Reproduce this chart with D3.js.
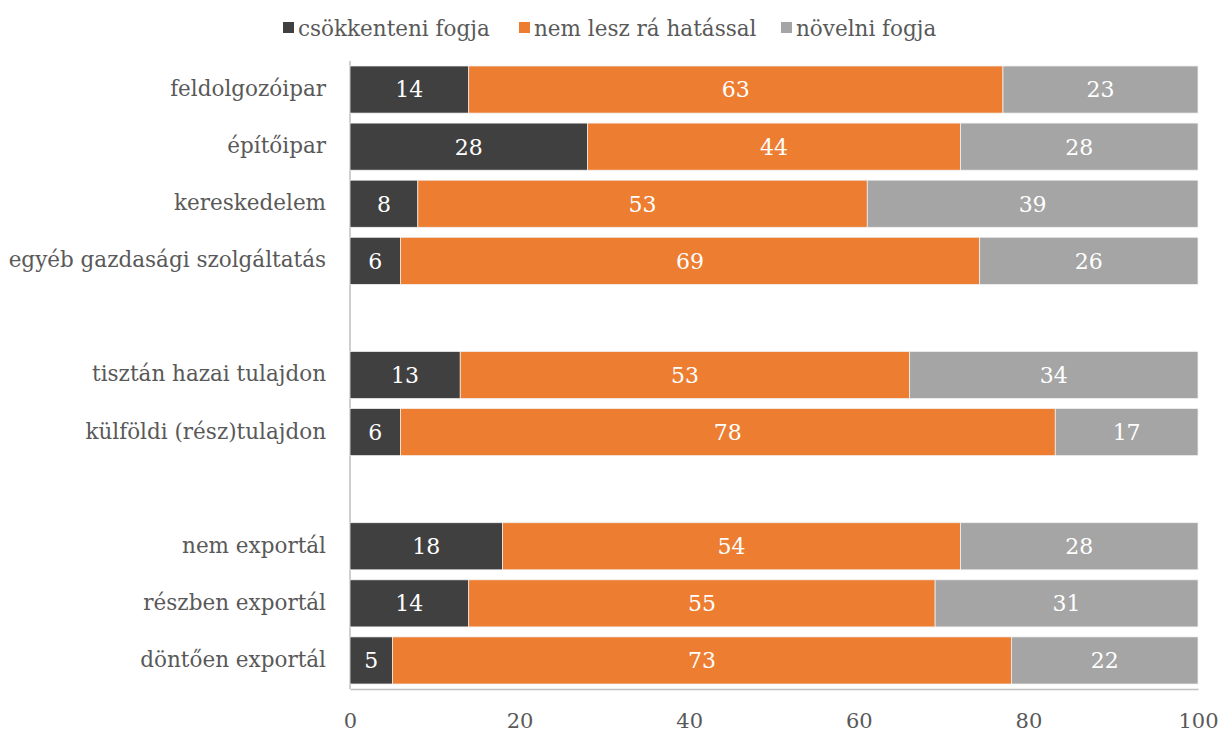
<!DOCTYPE html>
<html>
<head>
<meta charset="utf-8">
<title>Várható hatás ágazatonként</title>
<script src="https://cdnjs.cloudflare.com/ajax/libs/d3/7.8.5/d3.min.js"></script>
<style>
  body { margin: 0; background: #fff; }
  svg text { font-family: "DejaVu Serif", serif; }
  .tengely path, .tengely line { stroke: #bfbfbf; }
  .tengely text { fill: #595959; font-size: 21px; }
</style>
</head>
<body>
<div id="diagram"></div>
<script>
// sorok (null = üres hely a csoportok között)
var kategoriak = [
  "feldolgozóipar", "építőipar", "kereskedelem", "egyéb gazdasági szolgáltatás",
  null,
  "tisztán hazai tulajdon", "külföldi (rész)tulajdon",
  null,
  "nem exportál", "részben exportál", "döntően exportál"
];
var sorozatNevek = ["csökkenteni fogja", "nem lesz rá hatással", "növelni fogja"];
var csokkenteni = [14, 28, 8, 6, 13, 6, 18, 14, 5];
var nemHat      = [63, 44, 53, 69, 53, 78, 54, 55, 73];
var novelni     = [23, 28, 39, 26, 34, 17, 28, 31, 22];
var tickek = [0, 20, 40, 60, 80, 100];
var szinek = ["#404040", "#ed7d31", "#a5a5a5"];

var szelesseg = 1219, magassag = 733;
var m = { bal: 350, fent: 61, jobb: 21, lent: 44 };
var w = szelesseg - m.bal - m.jobb;
var h = magassag - m.fent - m.lent;

var svg = d3.select("#diagram").append("svg")
  .attr("width", szelesseg).attr("height", magassag);
var g = svg.append("g").attr("transform", "translate(" + m.bal + "," + m.fent + ")");

var x = d3.scaleLinear().domain([0, 100]).range([0, w]);
var y = d3.scaleBand().domain(d3.range(kategoriak.length)).range([0, h])
  .paddingInner(0.175).paddingOuter(0.0875);

// sorok összeállítása, 100%-ra normálva
var sorok = [];
var k = 0;
kategoriak.forEach(function (nev, i) {
  if (nev === null) return;
  var ertekek = [csokkenteni[k], nemHat[k], novelni[k]];
  var osszeg = d3.sum(ertekek);
  var kezd = 0;
  ertekek.forEach(function (v, s) {
    var arany = v / osszeg * 100;
    sorok.push({ hely: i, sorozat: s, ertek: v, x0: kezd, x1: kezd + arany });
    kezd += arany;
  });
  k++;
});

// tengelyek
g.append("g").attr("class", "tengely")
  .attr("transform", "translate(0," + h + ")")
  .call(d3.axisBottom(x).tickValues(tickek).tickSize(0).tickPadding(24))
  .call(function (a) {
    a.attr("font-family", null);
    a.select(".domain").attr("stroke-width", 1.5);
  });
g.append("line")
  .attr("x1", 0).attr("x2", 0).attr("y1", 0).attr("y2", h)
  .attr("stroke", "#bfbfbf").attr("stroke-width", 1.5);

// oszlopok
g.selectAll("rect.szegmens").data(sorok).enter().append("rect")
  .attr("class", "szegmens")
  .attr("x", function (d) { return x(d.x0); })
  .attr("width", function (d) { return x(d.x1) - x(d.x0); })
  .attr("y", function (d) { return y(d.hely); })
  .attr("height", y.bandwidth())
  .attr("fill", function (d) { return szinek[d.sorozat]; })
  .attr("stroke", "#f2f2f2").attr("stroke-width", 0.75);

g.selectAll("text.ertek").data(sorok).enter().append("text")
  .attr("class", "ertek")
  .attr("x", function (d) { return x((d.x0 + d.x1) / 2); })
  .attr("y", function (d) { return y(d.hely) + y.bandwidth() / 2; })
  .attr("dy", "0.36em")
  .attr("text-anchor", "middle")
  .attr("fill", "#fff")
  .style("font-size", "22px")
  .text(function (d) { return d.ertek; });

// kategória feliratok
g.selectAll("text.kat").data(kategoriak.map(function (n, i) { return { n: n, i: i }; })
    .filter(function (d) { return d.n !== null; }))
  .enter().append("text")
  .attr("class", "kat")
  .attr("x", -24)
  .attr("y", function (d) { return y(d.i) + y.bandwidth() / 2; })
  .attr("dy", "0.3em")
  .attr("text-anchor", "end")
  .attr("fill", "#595959")
  .style("font-size", "21.5px")
  .text(function (d) { return d.n; });

// jelmagyarázat
var jelX = [283, 519, 781];
var jm = svg.append("g");
sorozatNevek.forEach(function (nev, i) {
  jm.append("rect").attr("x", jelX[i]).attr("y", 22).attr("width", 11).attr("height", 11)
    .attr("fill", szinek[i]);
  jm.append("text").attr("x", jelX[i] + 15).attr("y", 28).attr("dy", "0.35em")
    .attr("fill", "#595959").style("font-size", "21.5px").text(nev);
});
</script>
</body>
</html>
